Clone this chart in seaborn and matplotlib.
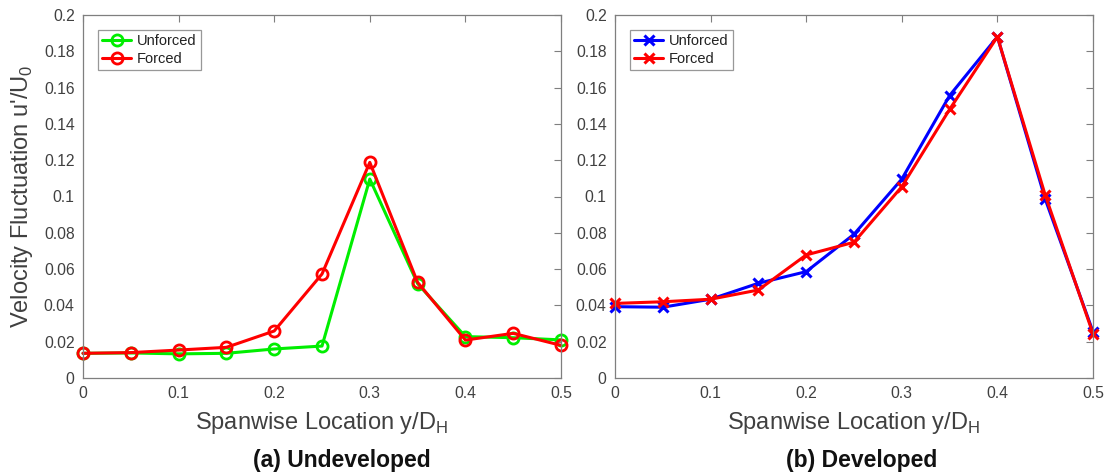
import numpy as np
import pandas as pd
import matplotlib
matplotlib.use("Agg")
import matplotlib.pyplot as plt
import seaborn as sns

sns.set_style("white")
plt.rcParams['font.family'] = ['Liberation Sans', 'DejaVu Sans']

# ---- data ----
y_loc = [0, 0.05, 0.1, 0.15, 0.2, 0.25, 0.3, 0.35, 0.4, 0.45, 0.5]

undev_unforced = [0.0136, 0.0138, 0.0133, 0.0136, 0.0160, 0.0176, 0.1096, 0.0520, 0.0228, 0.0222, 0.0210]
undev_forced   = [0.0136, 0.0140, 0.0154, 0.0169, 0.0259, 0.0573, 0.1188, 0.0527, 0.0209, 0.0246, 0.0180]

dev_unforced = [0.0393, 0.0390, 0.0434, 0.0522, 0.0586, 0.0792, 0.1096, 0.1556, 0.1880, 0.0986, 0.0255]
dev_forced   = [0.0411, 0.0420, 0.0434, 0.0485, 0.0678, 0.0748, 0.1054, 0.1480, 0.1880, 0.1008, 0.0244]

series_names = ["Unforced", "Forced"]
x_ticks = [0, 0.1, 0.2, 0.3, 0.4, 0.5]
x_ticklabels = ["0", "0.1", "0.2", "0.3", "0.4", "0.5"]
y_ticks = [0, 0.02, 0.04, 0.06, 0.08, 0.1, 0.12, 0.14, 0.16, 0.18, 0.2]
y_ticklabels = ["0", "0.02", "0.04", "0.06", "0.08", "0.1", "0.12", "0.14", "0.16", "0.18", "0.2"]

def long_df(a, b):
    return pd.DataFrame({
        "y": y_loc + y_loc,
        "v": a + b,
        "case": [series_names[0]] * len(y_loc) + [series_names[1]] * len(y_loc),
    })

df_a = long_df(undev_unforced, undev_forced)
df_b = long_df(dev_unforced, dev_forced)

fig = plt.figure(figsize=(11.07, 4.76), dpi=100)
W, H = 1107, 476
ax1 = fig.add_axes([83 / W, (H - 378) / H, (561 - 83) / W, (378 - 15) / H])
ax2 = fig.add_axes([615 / W, (H - 378) / H, (1093 - 615) / W, (378 - 15) / H])

axis_col = "#7f7f7f"
text_col = "#404040"

cols_a = ["#00ee00", "#ff0000"]
cols_b = ["#0000ff", "#ff0000"]

sns.lineplot(data=df_a, x="y", y="v", hue="case", palette=cols_a,
             marker="o", markersize=8, markerfacecolor="none", markeredgewidth=2,
             linewidth=2.2, ax=ax1, legend=False, clip_on=False)
for ln, c in zip(ax1.get_lines(), cols_a):
    ln.set_markeredgecolor(c)

sns.lineplot(data=df_b, x="y", y="v", hue="case", palette=cols_b,
             marker="x", markersize=6.5, markeredgewidth=2.2,
             linewidth=2.2, ax=ax2, legend=False, clip_on=False)
for ln, c in zip(ax2.get_lines(), cols_b):
    ln.set_markeredgecolor(c)

for ax, lbl in [(ax1, "(a) Undeveloped"), (ax2, "(b) Developed")]:
    ax.set_xlim(0, 0.5)
    ax.set_ylim(0, 0.2)
    ax.set_xticks(x_ticks)
    ax.set_xticklabels(x_ticklabels)
    ax.set_yticks(y_ticks)
    ax.set_yticklabels(y_ticklabels)
    ax.tick_params(direction="in", length=5, width=0.8, colors=axis_col,
                   labelcolor=text_col, labelsize=11.3, top=True, right=True, pad=6)
    for s in ax.spines.values():
        s.set_color(axis_col)
        s.set_linewidth(0.9)
    ax.set_xlabel("Spanwise Location y/D$_\\mathregular{H}$", fontsize=17, color=text_col, labelpad=6)
    ax.set_ylabel("")
    handles = ax.get_lines()[:2]
    leg = ax.legend(handles, series_names, loc="upper left", fontsize=10.5, frameon=True,
                    fancybox=False, handlelength=2.0, borderaxespad=1.0, borderpad=0.3,
                    labelspacing=0.25, handletextpad=0.4)
    leg.get_frame().set_edgecolor(axis_col)
    leg.get_frame().set_linewidth(0.9)
    for t in leg.get_texts():
        t.set_color("#222222")

ax1.set_ylabel("Velocity Fluctuation u'/U$_\\mathregular{0}$", fontsize=17, color=text_col, labelpad=6)

fig.text(342 / W, (H - 460) / H, "(a) Undeveloped", ha="center", va="center",
         fontsize=16.5, fontweight="bold", color="#111111")
fig.text(862 / W, (H - 460) / H, "(b) Developed", ha="center", va="center",
         fontsize=16.5, fontweight="bold", color="#111111")

fig.savefig("out.png", dpi=100, facecolor="white")
